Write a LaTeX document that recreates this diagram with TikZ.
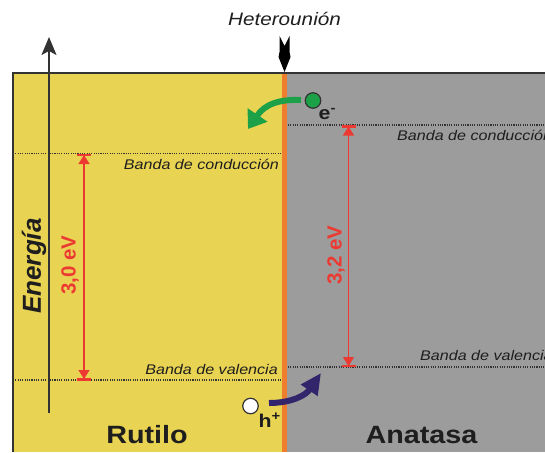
\documentclass[tikz,border=0pt]{standalone}
\usepackage{fontspec}
\setmainfont[FakeStretch=1.15]{Liberation Sans}
\newfontfamily\rotfont{Liberation Sans}
\usetikzlibrary{arrows.meta}
\definecolor{rutyellow}{RGB}{233,211,83}
\definecolor{anagray}{RGB}{156,156,156}
\definecolor{sepor}{RGB}{239,125,46}
\definecolor{framedark}{RGB}{51,51,51}
\definecolor{txtdark}{RGB}{30,30,30}
\definecolor{gapred}{RGB}{236,58,50}
\definecolor{egreen}{RGB}{28,160,72}
\definecolor{hpurple}{RGB}{51,37,107}
\tikzset{
  bandline/.style={draw=framedark, line width=1.1pt, dash pattern=on 1.1pt off 1.2pt},
  bandlabel/.style={inner sep=0pt, text=txtdark, font=\fontsize{14}{16}\selectfont\itshape},
  gapline/.style={draw=gapred, line width=1.4pt, {Triangle[length=9pt,width=11pt]}-{Triangle[length=9pt,width=11pt]}},
  gapbar/.style={draw=gapred, line width=2.4pt},
  gaplabel/.style={inner sep=0pt, text=gapred, rotate=90, font=\rotfont\bfseries\fontsize{20.5}{22}\selectfont},
  phase/.style={inner sep=0pt, text=txtdark, font=\bfseries\fontsize{25}{28}\selectfont},
  carrier/.style={circle, draw=framedark, line width=1.2pt, minimum size=15.5pt, inner sep=0pt},
  carrierlabel/.style={inner sep=0pt, text=txtdark, font=\bfseries\fontsize{18.5}{20}\selectfont},
}
\begin{document}
\begin{tikzpicture}[x=1pt,y=-1pt]
\useasboundingbox (0,0) rectangle (545,452);
\begin{scope}
\clip (0,0) rectangle (545,452);
% panels
\fill[rutyellow] (13,73) rectangle (284,452);
\fill[anagray] (284,73) rectangle (545,452);
\draw[sepor, line width=5.5pt] (284.3,73) -- (284.3,452);
\draw[framedark, line width=1.8pt] (13,452) -- (13,73) -- (545,73);
% band edges
\coordinate (rcL) at (13,153.5);  \coordinate (rcR) at (282,153.5);
\coordinate (rvL) at (13,380);    \coordinate (rvR) at (282,380);
\coordinate (acL) at (288,125);   \coordinate (acR) at (545,125);
\coordinate (avL) at (288,367);   \coordinate (avR) at (545,367);
\draw[bandline] (rcL) -- (rcR);
\draw[bandline] (rvL) -- (rvR);
\draw[bandline] (acL) -- (acR);
\draw[bandline] (avL) -- (avR);
\node[bandlabel, anchor=base east] (rcl) at (279,169) {Banda de conducción};
\node[bandlabel, anchor=base east] (rvl) at (278,374) {Banda de valencia};
\node[bandlabel, anchor=base west] (acl) at (397,140) {Banda de conducción};
\node[bandlabel, anchor=base west] (avl) at (420,360.5) {Banda de valencia};
% gaps
\coordinate (g1t) at (84,155); \coordinate (g1b) at (84,379);
\coordinate (g2t) at (348.5,126.5); \coordinate (g2b) at (348.5,366);
\draw[gapline] (g1t) -- (g1b);
\draw[gapline] (g2t) -- (g2b);
\draw[gapbar] (77,155) -- (91,155);
\draw[gapbar] (77,379.5) -- (91,379.5);
\draw[gapbar] (341.5,126.5) -- (355.5,126.5);
\draw[gapbar] (341.5,366) -- (355.5,366);
\node[gaplabel] (g1l) at (70,265) {3,0 eV};
\node[gaplabel] (g2l) at (336,255) {3,2 eV};
% energy axis
\coordinate (ebot) at (49,413); \coordinate (etop) at (49,37);
\draw[framedark, line width=1.6pt, -{Stealth[length=18pt,width=15pt,inset=4pt]}] (ebot) -- (etop);
\node[inner sep=0pt, rotate=90, text=txtdark, font=\rotfont\bfseries\itshape\fontsize{26}{28}\selectfont] (energia) at (34,266) {Energía};
% carriers
\node[carrier, fill=egreen] (el) at (313,100.5) {};
\node[carrierlabel, anchor=base west] (elab) at (318.5,119) {e\textsuperscript{-}};
\node[carrier, fill=white] (ho) at (250.5,406) {};
\node[carrierlabel, anchor=base west] (hlab) at (258.5,427) {h\textsuperscript{+}};
\coordinate (gs) at (301,100); \coordinate (gt) at (248,129);
\draw[egreen, line width=6pt, -{Triangle[length=17pt,width=23pt]}] (gs) .. controls (280,99) and (265,104) .. (gt);
\coordinate (ps) at (269,403); \coordinate (pt) at (321,373);
\draw[hpurple, line width=6pt, -{Triangle[length=21pt,width=19pt]}] (ps) .. controls (292,403) and (306,395) .. (pt);
% phase names
\node[phase, anchor=base] (rut) at (147,443) {Rutilo};
\node[phase, anchor=base] (ana) at (421.5,443) {Anatasa};
\end{scope}
% heterojunction
\node[inner sep=0pt, anchor=base, text=txtdark, font=\itshape\fontsize{18}{20}\selectfont] (het) at (284.5,25.7) {Heterounión};
\fill[black] (279.5,36) -- (284.5,46) -- (289.5,36) -- (289.5,52) -- (290.5,57) -- (284.5,72) -- (278.5,57) -- (279.5,52) -- cycle;
\end{tikzpicture}
\end{document}
